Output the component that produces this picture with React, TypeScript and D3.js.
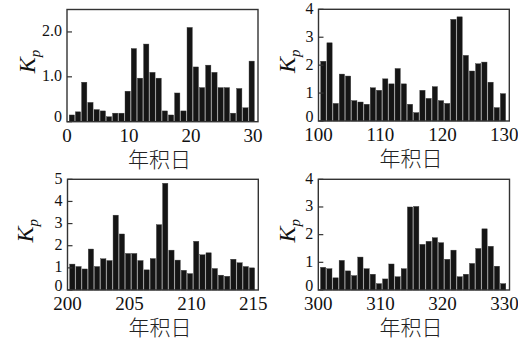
import React from "react";
import * as d3 from "d3";

// Kp values, 30 bars per panel
const kpJan = [0.15, 0.22, 0.88, 0.43, 0.27, 0.24, 0.11, 0.19, 0.19, 0.68, 1.63, 0.97, 1.73, 1.1, 0.97, 0.24, 0.15, 0.64, 0.24, 2.1, 1.22, 0.76, 1.26, 1.1, 0.76, 0.76, 0.19, 0.74, 0.31, 1.35];
const kpApr = [2.14, 2.8, 0.63, 1.68, 1.61, 0.73, 0.68, 0.6, 1.19, 1.1, 1.51, 1.33, 1.88, 1.33, 0.6, 0.3, 1.1, 0.81, 1.23, 0.73, 0.63, 3.64, 3.73, 2.35, 1.79, 2.05, 2.11, 1.39, 0.48, 0.98];
const kpJul = [1.17, 1.06, 0.95, 1.85, 1.06, 1.41, 1.33, 3.38, 2.53, 1.65, 1.65, 1.33, 0.91, 1.42, 2.95, 4.82, 1.8, 1.35, 0.89, 0.74, 2.2, 1.59, 1.68, 0.97, 0.67, 0.62, 1.39, 1.23, 1.06, 1.0];
const kpOct = [0.82, 0.77, 0.44, 1.07, 0.69, 0.52, 1.19, 0.77, 0.57, 0.23, 0.4, 0.94, 0.48, 0.77, 3.0, 3.02, 1.65, 1.76, 1.89, 1.71, 1.11, 1.44, 0.48, 0.57, 0.96, 1.5, 2.21, 1.58, 0.86, 0.23];

const startDays = [0, 100, 200, 300];
const dayStep = [1, 1, 0.5, 1];
const xTickLabels = [
  ["0", "10", "20", "30"],
  ["100", "110", "120", "130"],
  ["200", "205", "210", "215"],
  ["300", "310", "320", "330"],
];
const yTickValues = [
  [0, 1, 2],
  [0, 1, 2, 3, 4],
  [0, 1, 2, 3, 4, 5],
  [0, 1, 2, 3, 4],
];
const yTickText = [
  ["0", "1.0", "2.0"],
  ["0", "1", "2", "3", "4"],
  ["0", "1", "2", "3", "4", "5"],
  ["0", "1", "2", "3", "4"],
];
const yMax = [2.5, 4, 5, 4];
const kpSeries = [kpJan, kpApr, kpJul, kpOct];
const xLabel = "年积日";

const frames = [
  { l: 67, r: 258, t: 9.5, b: 121.7, kx: 35 },
  { l: 318.5, r: 509.3, t: 9.3, b: 121, kx: 295 },
  { l: 67.5, r: 258.3, t: 179.3, b: 290, kx: 33 },
  { l: 318.3, r: 509.5, t: 179.3, b: 290, kx: 295 },
];

const serif = "'Liberation Serif', 'Times New Roman', 'DejaVu Serif', serif";

function Panel({ idx }: { idx: number }) {
  const f = frames[idx];
  const data = kpSeries[idx];
  const step = dayStep[idx];
  const start = startDays[idx];
  const x = d3.scaleLinear().domain([start, start + 30.8 * step]).range([f.l, f.r]);
  const y = d3.scaleLinear().domain([0, yMax[idx]]).range([f.b, f.t]);
  const bw = x(start + 0.85 * step) - x(start);
  const ticksX = xTickLabels[idx].map((s) => +s);
  const cy = (f.t + f.b) / 2 - 4;
  return (
    <g>
      {data.map((v, i) => {
        const day = start + (i + 1) * step;
        const cx = x(day - 0.22 * step);
        return (
          <rect
            key={i}
            x={cx - bw / 2}
            y={y(v)}
            width={bw}
            height={y(0) - y(v)}
            fill="#151515"
            stroke="#3a3a3a"
            strokeWidth={0.4}
          />
        );
      })}
      <rect x={f.l} y={f.t} width={f.r - f.l} height={f.b - f.t} fill="none" stroke="#333" strokeWidth={1.4} />
      {yTickValues[idx].map((v, i) => (
        <g key={"y" + i}>
          <line x1={f.l} x2={f.l + 5} y1={y(v)} y2={y(v)} stroke="#333" strokeWidth={1.2} />
          <text
            x={f.l - 5}
            y={v === 0 ? y(v) + 0.5 : y(v) + 4.5}
            textAnchor="end"
            style={{ fontFamily: serif, fontSize: 16 }}
            fill="#111"
          >
            {yTickText[idx][i]}
          </text>
        </g>
      ))}
      {ticksX.map((v, i) => (
        <text
          key={"x" + i}
          x={x(v)}
          y={f.b + 20}
          textAnchor="middle"
          style={{ fontFamily: serif, fontSize: 19 }}
          fill="#111"
        >
          {xTickLabels[idx][i]}
        </text>
      ))}
      <text
        transform={`translate(${f.kx},${cy}) rotate(-90)`}
        textAnchor="middle"
        style={{ fontFamily: serif, fontSize: 24, fontStyle: "italic" }}
        fill="#111"
      >
        K<tspan style={{ fontSize: 15 }} dy={5}>p</tspan>
      </text>
      <text
        x={(f.l + f.r) / 2 - 3}
        y={f.b + 45}
        textAnchor="middle"
        style={{ fontFamily: "'Noto Sans CJK SC', sans-serif", fontSize: 21, fontWeight: 300 }}
        fill="#222"
      >
        {xLabel}
      </text>
    </g>
  );
}

export default function App() {
  return (
    <svg
      width={518}
      height={343}
      style={{ position: "absolute", left: 0, top: 0, background: "#fff" }}
    >
      <rect width={518} height={343} fill="#fff" />
      {[0, 1, 2, 3].map((i) => (
        <Panel key={i} idx={i} />
      ))}
    </svg>
  );
}
